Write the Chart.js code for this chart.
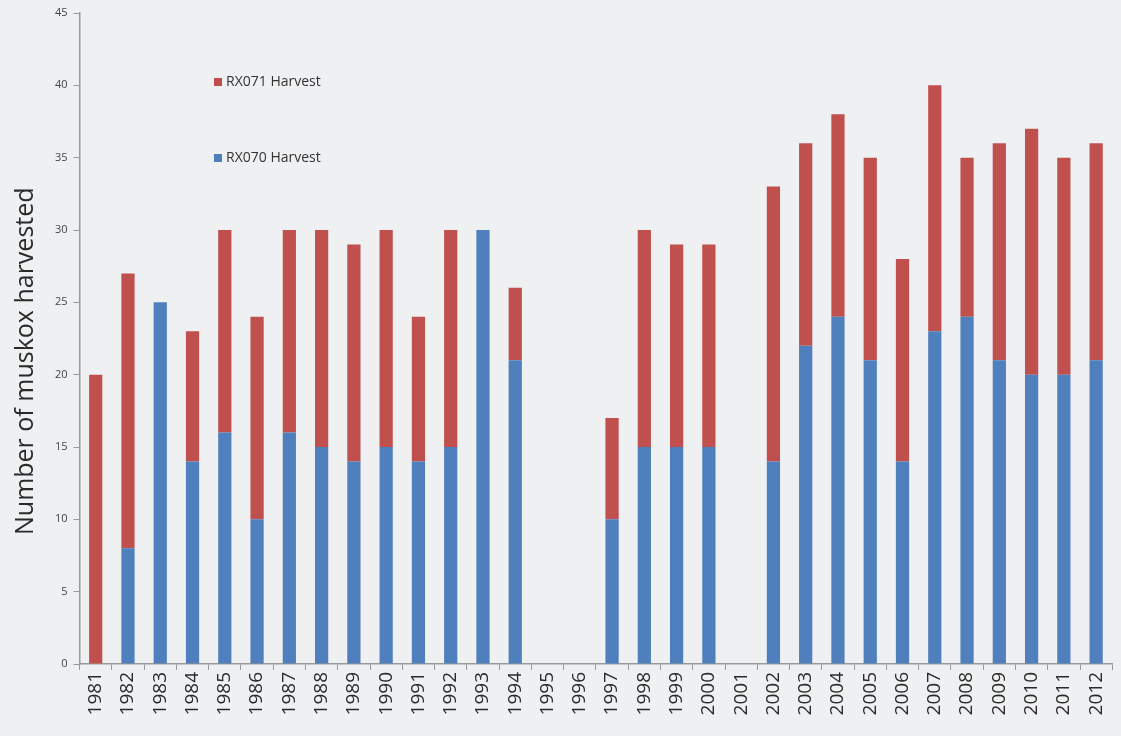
<!DOCTYPE html>
<html>
<head>
<meta charset="utf-8">
<script src="https://cdn.jsdelivr.net/npm/chart.js@4.4.0/dist/chart.umd.min.js"></script>
<style>
  html, body { margin: 0; padding: 0; background: #eff0f2; }
  #wrap { width: 1121px; height: 736px; position: relative; }
</style>
</head>
<body>
<div id="wrap"><canvas id="harvestChart"></canvas></div>
<script>
const years = ['1981','1982','1983','1984','1985','1986','1987','1988','1989','1990','1991','1992','1993','1994','1995','1996',
  '1997','1998','1999','2000','2001','2002','2003','2004','2005','2006','2007','2008','2009','2010','2011','2012'];
const rx070 = [0, 8, 25, 14, 16, 10, 16, 15, 14, 15, 14, 15, 30, 21, 0, 0,
  10, 15, 15, 15, 0, 14, 22, 24, 21, 14, 23, 24, 21, 20, 20, 21];
const rx071 = [20, 19, 0, 9, 14, 14, 14, 15, 15, 15, 10, 15, 0, 5, 0, 0,
  7, 15, 14, 14, 0, 19, 14, 14, 14, 14, 17, 11, 15, 17, 15, 15];
const yTicks = [0, 5, 10, 15, 20, 25, 30, 35, 40, 45];

// legend inside the plot, top-left, red entry above blue
const insideLegend = {
  id: 'insideLegend',
  afterDraw(chart) {
    const ctx = chart.ctx;
    const sets = chart.data.datasets.slice().reverse();
    ctx.save();
    ctx.font = '14px "Open Sans", sans-serif';
    ctx.textBaseline = 'middle';
    sets.forEach((ds, i) => {
      const y = 82 + i * 76;
      ctx.fillStyle = ds.backgroundColor;
      ctx.fillRect(214, y - 4, 8, 8);
      ctx.fillStyle = '#333';
      ctx.fillText(ds.label, 226, y);
    });
    ctx.restore();
  }
};

new Chart(document.getElementById('harvestChart'), {
  type: 'bar',
  data: {
    labels: years,
    datasets: [
      { label: 'RX070 Harvest', data: rx070, backgroundColor: '#4f7fbc', barPercentage: 0.82, categoryPercentage: 0.5 },
      { label: 'RX071 Harvest', data: rx071, backgroundColor: '#c0504d', barPercentage: 0.82, categoryPercentage: 0.5 }
    ]
  },
  options: {
    responsive: true,
    maintainAspectRatio: false,
    animation: false,
    layout: { padding: { top: 13, right: 4, left: 7, bottom: 0 } },
    plugins: { legend: { display: false }, tooltip: { enabled: false } },
    scales: {
      x: {
        stacked: true,
        grid: { drawOnChartArea: false, drawTicks: true, tickLength: 6, color: '#999' },
        border: { color: '#999', width: 1.5 },
        ticks: { minRotation: 90, maxRotation: 90, color: '#2a2a2a', font: { size: 19, family: 'Open Sans' }, autoSkip: false, padding: 2 },
        afterFit: axis => { axis.height = 72; }
      },
      y: {
        stacked: true,
        min: 0, max: 45,
        afterBuildTicks: axis => { axis.ticks = yTicks.map(v => ({ value: v })); },
        grid: { drawOnChartArea: false, drawTicks: true, tickLength: 6, color: '#999' },
        border: { color: '#999', width: 1.5 },
        ticks: { color: '#444', font: { size: 11, family: 'Open Sans' }, padding: 6 },
        // trailing spaces nudge the centred title a little lower, as in the original
        title: { display: true, text: 'Number of muskox harvested' + '\u00a0'.repeat(7), color: '#2a2a2a', font: { size: 25, family: 'Open Sans' }, padding: { bottom: 8 } }
      }
    }
  },
  plugins: [insideLegend]
});
</script>
</body>
</html>
